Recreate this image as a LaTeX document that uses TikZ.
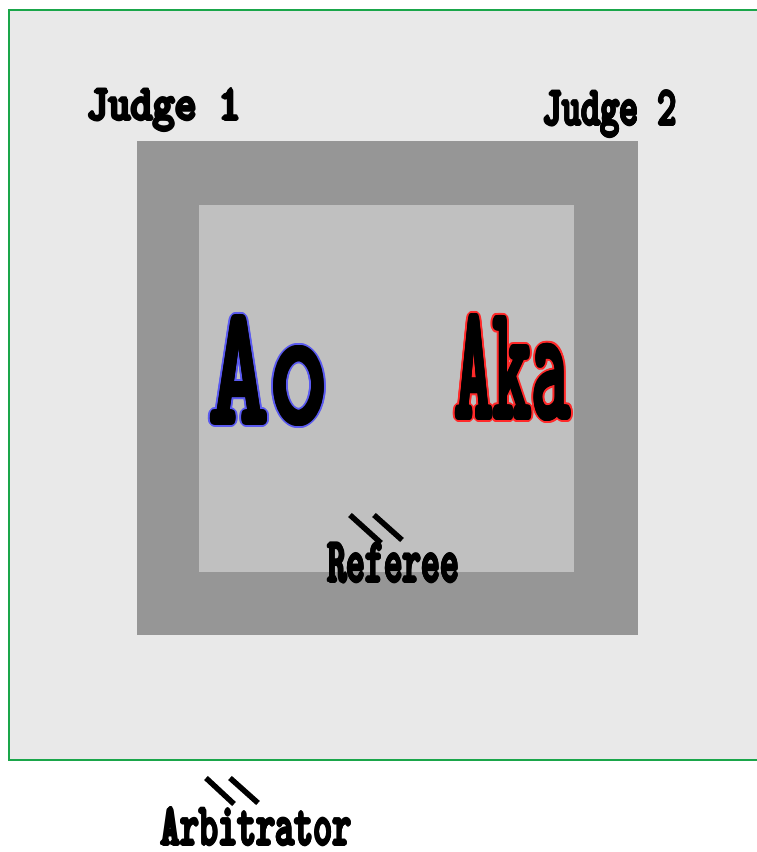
\documentclass[tikz,border=0pt]{standalone}
\usepackage{fontspec}
\usepackage{graphicx}
\definecolor{bglight}{HTML}{E9E9E9}
\definecolor{matdark}{HTML}{969696}
\definecolor{matinner}{HTML}{C0C0C0}
\definecolor{greenline}{HTML}{1AA64A}
\definecolor{aoedge}{HTML}{5A5AF0}
\definecolor{akaedge}{HTML}{FF2A2A}
\begin{document}
\begin{tikzpicture}[x=1pt,y=-1pt,
  lbl/.style={inner sep=0pt, outer sep=0pt, anchor=base west, font=\ttfamily\bfseries},
  slashline/.style={line width=5.5pt, black}]
\useasboundingbox (0,0) rectangle (756,852);
% outer area
\fill[bglight] (9,10) rectangle (770,760);
\draw[greenline, line width=1.2pt] (770,10) -- (9,10) -- (9,760) -- (770,760);
% mat
\fill[matdark] (137,141) rectangle (638,635);
\fill[matinner] (199,205) rectangle (574,572);
% judges
\foreach \a [count=\i] in {0,45,...,315}{
  \node[lbl, shift={(\a:1.1)}] (j1t\i) at (87,120) {\resizebox{154pt}{31pt}{Judge 1}};
  \node[lbl, shift={(\a:1.1)}] (j2t\i) at (543,125) {\resizebox{134pt}{34pt}{Judge 2}};
  \node[lbl, shift={(\a:1.1)}] (reft\i) at (328,582) {\resizebox{131pt}{39pt}{Referee}};
  \node[lbl, shift={(\a:1.1)}] (arbt\i) at (161,845) {\resizebox{191pt}{37pt}{Arbitrator}};
}
\node[lbl] (j1) at (87,120) {\resizebox{154pt}{31pt}{Judge 1}};
\node[lbl] (j2) at (543,125) {\resizebox{134pt}{34pt}{Judge 2}};
% Ao with blue edge
\foreach \a [count=\i] in {0,22.5,...,337.5}
  \node[lbl, text=aoedge, shift={(\a:3.6)}] (aoe\i) at (209,424) {\resizebox{120pt}{108pt}{Ao}};
\foreach \a [count=\i] in {0,45,...,315}
  \node[lbl, shift={(\a:1.6)}] (aot\i) at (209,424) {\resizebox{120pt}{108pt}{Ao}};
\node[lbl] (ao) at (209,424) {\resizebox{120pt}{108pt}{Ao}};
% Aka with red edge
\foreach \a [count=\i] in {0,22.5,...,337.5}
  \node[lbl, text=akaedge, shift={(\a:3.6)}] (akae\i) at (455,419) {\resizebox{115pt}{104pt}{Aka}};
\foreach \a [count=\i] in {0,45,...,315}
  \node[lbl, shift={(\a:1.6)}] (akat\i) at (455,419) {\resizebox{115pt}{104pt}{Aka}};
\node[lbl] (aka) at (455,419) {\resizebox{115pt}{104pt}{Aka}};
% referee
\node[lbl] (ref) at (328,582) {\resizebox{131pt}{39pt}{Referee}};
\coordinate (r1a) at (350,515); \coordinate (r1b) at (381,543);
\coordinate (r2a) at (374,515); \coordinate (r2b) at (402,540);
\draw[slashline] (r1a) -- (r1b);
\draw[slashline] (r2a) -- (r2b);
% arbitrator
\node[lbl] (arb) at (161,845) {\resizebox{191pt}{37pt}{Arbitrator}};
\coordinate (a1a) at (206,778); \coordinate (a1b) at (234,804);
\coordinate (a2a) at (230,778); \coordinate (a2b) at (258,803);
\draw[slashline] (a1a) -- (a1b);
\draw[slashline] (a2a) -- (a2b);
\end{tikzpicture}
\end{document}
